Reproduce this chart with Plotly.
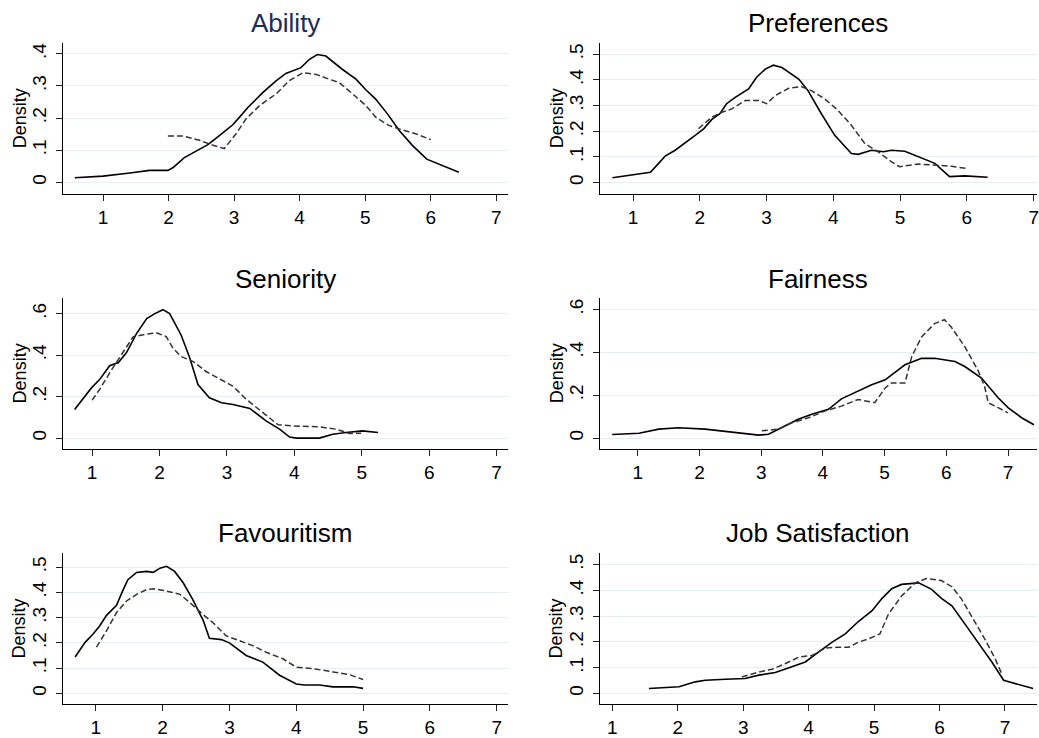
import plotly.graph_objects as go

# ---------------- data ----------------
titles = ["Ability", "Preferences", "Seniority", "Fairness", "Favouritism", "Job Satisfaction"]

ability_solid_x = [0.57, 1.0, 1.41, 1.71, 1.99, 2.07, 2.24, 2.40, 2.60, 2.78, 2.98, 3.08, 3.21, 3.44, 3.64, 3.79, 4.02, 4.15, 4.27, 4.40, 4.65, 4.86, 5.01, 5.16, 5.34, 5.52, 5.72, 5.94, 6.18, 6.43]
ability_solid_y = [0.014, 0.019, 0.029, 0.037, 0.037, 0.046, 0.077, 0.095, 0.117, 0.146, 0.179, 0.202, 0.233, 0.280, 0.316, 0.339, 0.357, 0.383, 0.398, 0.393, 0.352, 0.321, 0.288, 0.259, 0.213, 0.161, 0.115, 0.072, 0.053, 0.031]
ability_dash_x = [1.99, 2.22, 2.47, 2.68, 2.85, 3.03, 3.18, 3.39, 3.64, 3.84, 4.05, 4.25, 4.45, 4.60, 4.81, 5.01, 5.16, 5.36, 5.57, 5.77, 6.0]
ability_dash_y = [0.144, 0.144, 0.131, 0.115, 0.105, 0.151, 0.197, 0.239, 0.275, 0.316, 0.341, 0.336, 0.321, 0.311, 0.275, 0.239, 0.203, 0.177, 0.163, 0.151, 0.133]

pref_solid_x = [0.69, 0.94, 1.16, 1.26, 1.48, 1.63, 1.93, 2.06, 2.18, 2.30, 2.40, 2.53, 2.73, 2.85, 2.98, 3.10, 3.23, 3.48, 3.62, 3.82, 4.02, 4.27, 4.37, 4.57, 4.75, 4.87, 5.07, 5.27, 5.52, 5.74, 5.97, 6.31]
pref_solid_y = [0.019, 0.027, 0.037, 0.040, 0.103, 0.126, 0.184, 0.210, 0.246, 0.268, 0.307, 0.332, 0.365, 0.410, 0.442, 0.457, 0.448, 0.403, 0.358, 0.268, 0.184, 0.113, 0.110, 0.126, 0.120, 0.126, 0.122, 0.100, 0.075, 0.023, 0.026, 0.021]
pref_dash_x = [1.98, 2.18, 2.33, 2.48, 2.68, 2.88, 3.0, 3.13, 3.33, 3.52, 3.67, 3.87, 4.07, 4.27, 4.47, 4.67, 4.87, 4.99, 5.27, 5.57, 5.77, 5.99]
pref_dash_y = [0.210, 0.255, 0.274, 0.287, 0.320, 0.320, 0.307, 0.339, 0.367, 0.374, 0.358, 0.326, 0.281, 0.223, 0.152, 0.120, 0.081, 0.062, 0.072, 0.068, 0.064, 0.055]

sen_solid_x = [0.74, 0.87, 0.99, 1.11, 1.26, 1.39, 1.51, 1.66, 1.81, 1.93, 2.05, 2.15, 2.32, 2.45, 2.57, 2.74, 2.92, 3.09, 3.34, 3.58, 3.78, 3.93, 4.03, 4.37, 4.57, 4.77, 5.01, 5.24]
sen_solid_y = [0.138, 0.194, 0.242, 0.282, 0.349, 0.364, 0.412, 0.505, 0.576, 0.600, 0.619, 0.600, 0.497, 0.385, 0.258, 0.194, 0.170, 0.162, 0.143, 0.083, 0.043, 0.005, 0.0, 0.0, 0.019, 0.027, 0.035, 0.027]
sen_dash_x = [1.0, 1.11, 1.29, 1.46, 1.61, 1.81, 1.95, 2.10, 2.20, 2.32, 2.50, 2.69, 2.89, 3.09, 3.29, 3.53, 3.76, 3.98, 4.37, 4.62, 4.82, 4.99]
sen_dash_y = [0.183, 0.234, 0.330, 0.412, 0.489, 0.501, 0.508, 0.489, 0.433, 0.393, 0.369, 0.321, 0.285, 0.250, 0.186, 0.123, 0.064, 0.059, 0.054, 0.043, 0.022, 0.024]

fair_solid_x = [0.585, 1.02, 1.34, 1.66, 2.09, 2.53, 2.96, 3.12, 3.39, 3.60, 3.82, 4.09, 4.30, 4.57, 4.79, 5.01, 5.33, 5.60, 5.81, 6.14, 6.30, 6.57, 6.84, 7.0, 7.22, 7.42]
fair_solid_y = [0.017, 0.023, 0.042, 0.048, 0.042, 0.029, 0.014, 0.018, 0.057, 0.088, 0.111, 0.134, 0.183, 0.218, 0.249, 0.272, 0.342, 0.372, 0.372, 0.357, 0.334, 0.280, 0.188, 0.142, 0.095, 0.062]
fair_dash_x = [3.01, 3.28, 3.50, 3.77, 4.03, 4.30, 4.57, 4.84, 5.01, 5.11, 5.33, 5.44, 5.60, 5.81, 5.97, 6.08, 6.30, 6.51, 6.62, 6.68, 6.84, 7.0]
fair_dash_y = [0.034, 0.042, 0.072, 0.095, 0.126, 0.149, 0.180, 0.165, 0.234, 0.257, 0.257, 0.380, 0.472, 0.534, 0.552, 0.518, 0.426, 0.318, 0.242, 0.165, 0.142, 0.118]

fav_solid_x = [0.69, 0.84, 0.96, 1.06, 1.16, 1.31, 1.41, 1.48, 1.61, 1.76, 1.86, 1.96, 2.06, 2.18, 2.31, 2.45, 2.61, 2.70, 2.88, 3.0, 3.25, 3.50, 3.75, 4.0, 4.12, 4.35, 4.55, 4.85, 5.0]
fav_solid_y = [0.144, 0.202, 0.235, 0.268, 0.309, 0.349, 0.411, 0.450, 0.479, 0.483, 0.479, 0.496, 0.503, 0.483, 0.437, 0.372, 0.287, 0.218, 0.213, 0.200, 0.150, 0.124, 0.072, 0.037, 0.033, 0.033, 0.026, 0.026, 0.020]
fav_dash_x = [1.01, 1.16, 1.31, 1.46, 1.61, 1.76, 1.88, 2.06, 2.26, 2.41, 2.60, 2.75, 2.95, 3.15, 3.35, 3.55, 3.80, 4.0, 4.25, 4.55, 4.80, 5.0]
fav_dash_y = [0.183, 0.248, 0.320, 0.366, 0.392, 0.411, 0.414, 0.405, 0.392, 0.359, 0.313, 0.281, 0.228, 0.209, 0.189, 0.163, 0.137, 0.104, 0.098, 0.085, 0.074, 0.055]

job_solid_x = [1.56, 2.02, 2.27, 2.42, 2.73, 3.03, 3.24, 3.49, 3.69, 3.95, 4.15, 4.36, 4.56, 4.76, 4.97, 5.12, 5.27, 5.42, 5.68, 5.88, 6.03, 6.19, 6.39, 6.59, 6.80, 6.98, 7.15, 7.43]
job_solid_y = [0.019, 0.026, 0.045, 0.051, 0.055, 0.058, 0.071, 0.081, 0.099, 0.122, 0.160, 0.199, 0.231, 0.279, 0.321, 0.368, 0.406, 0.423, 0.429, 0.404, 0.369, 0.340, 0.269, 0.199, 0.122, 0.051, 0.038, 0.019]
job_dash_x = [2.98, 3.24, 3.44, 3.64, 3.85, 4.05, 4.26, 4.43, 4.61, 4.76, 4.92, 5.09, 5.22, 5.42, 5.63, 5.80, 6.03, 6.19, 6.34, 6.49, 6.69, 6.85, 6.96]
job_dash_y = [0.064, 0.083, 0.094, 0.115, 0.141, 0.147, 0.176, 0.179, 0.179, 0.199, 0.212, 0.231, 0.308, 0.378, 0.429, 0.446, 0.438, 0.414, 0.365, 0.301, 0.212, 0.135, 0.071]

x_ticks = [1, 2, 3, 4, 5, 6, 7]
x_tick_labels = ["1", "2", "3", "4", "5", "6", "7"]
y_ticks_a = [0, 0.1, 0.2, 0.3, 0.4]
y_labels_a = ["0", ".1", ".2", ".3", ".4"]
y_ticks_b = [0, 0.1, 0.2, 0.3, 0.4, 0.5]
y_labels_b = ["0", ".1", ".2", ".3", ".4", ".5"]
y_ticks_c = [0, 0.2, 0.4, 0.6]
y_labels_c = ["0", ".2", ".4", ".6"]

# ---------------- layout ----------------
W, H = 1039, 738
FONT = "Liberation Sans, Arial, Helvetica, sans-serif"

panels = [
    dict(sx=ability_solid_x, sy=ability_solid_y, dx=ability_dash_x, dy=ability_dash_y,
         xr=[0.387, 7.18], yr=[-0.037, 0.435], yt=y_ticks_a, yl=y_labels_a, col=0, row=0),
    dict(sx=pref_solid_x, sy=pref_solid_y, dx=pref_dash_x, dy=pref_dash_y,
         xr=[0.502, 7.05], yr=[-0.045, 0.545], yt=y_ticks_b, yl=y_labels_b, col=1, row=0),
    dict(sx=sen_solid_x, sy=sen_solid_y, dx=sen_dash_x, dy=sen_dash_y,
         xr=[0.566, 7.17], yr=[-0.0525, 0.676], yt=y_ticks_c, yl=y_labels_c, col=0, row=1),
    dict(sx=fair_solid_x, sy=fair_solid_y, dx=fair_dash_x, dy=fair_dash_y,
         xr=[0.385, 7.47], yr=[-0.0508, 0.654], yt=y_ticks_c, yl=y_labels_c, col=1, row=1),
    dict(sx=fav_solid_x, sy=fav_solid_y, dx=fav_dash_x, dy=fav_dash_y,
         xr=[0.507, 7.17], yr=[-0.043, 0.557], yt=y_ticks_b, yl=y_labels_b, col=0, row=2),
    dict(sx=job_solid_x, sy=job_solid_y, dx=job_dash_x, dy=job_dash_y,
         xr=[0.81, 7.49], yr=[-0.042, 0.546], yt=y_ticks_b, yl=y_labels_b, col=1, row=2),
]

col_px = [(63, 509), (601, 1039)]
row_px = [(43, 196), (300.7, 453.3), (558, 711)]
title_y_px = [23, 281.5, 538]

fig = go.Figure()
layout = dict(
    width=W, height=H, margin=dict(l=0, r=0, t=0, b=0),
    paper_bgcolor="white", plot_bgcolor="white", showlegend=False,
    font=dict(family=FONT, color="black", size=14),
)
annotations = []
for i, p in enumerate(panels):
    k = "" if i == 0 else str(i + 1)
    x0, x1 = col_px[p["col"]]
    y0, y1 = row_px[p["row"]]
    fig.add_trace(go.Scatter(x=p["sx"], y=p["sy"], mode="lines", xaxis="x" + k, yaxis="y" + k,
                             line=dict(color="black", width=1.6), hoverinfo="skip"))
    fig.add_trace(go.Scatter(x=p["dx"], y=p["dy"], mode="lines", xaxis="x" + k, yaxis="y" + k,
                             line=dict(color="#333333", width=1.5, dash="6px,3px"), hoverinfo="skip"))
    layout["xaxis" + k] = dict(
        domain=[x0 / W, x1 / W], anchor="y" + k, range=p["xr"],
        tickvals=x_ticks, ticktext=x_tick_labels, ticks="outside", ticklen=6, tickcolor="#222",
        showline=True, linecolor="black", linewidth=1, showgrid=False, zeroline=False,
        tickfont=dict(size=19, family=FONT), ticklabelstandoff=0, fixedrange=True,
        ticklabeloverflow="allow",
    )
    layout["yaxis" + k] = dict(
        domain=[1 - y1 / H, 1 - y0 / H], anchor="x" + k, range=p["yr"],
        tickvals=p["yt"], ticktext=p["yl"], ticks="outside", ticklen=6, tickcolor="#222",
        tickangle=-90, showline=True, linecolor="black", linewidth=1,
        showgrid=True, gridcolor="#e6eef1", gridwidth=1, zeroline=False,
        tickfont=dict(size=19, family=FONT), ticklabelstandoff=2, fixedrange=True,
    )
    annotations.append(dict(
        text=titles[i], xref="paper", yref="paper",
        x=((x0 + x1) / 2) / W, y=1 - title_y_px[p["row"]] / H,
        xanchor="center", yanchor="middle", showarrow=False,
        font=dict(size=26, family=FONT, color="#1c2d5a" if i == 0 else "black"),
    ))
    annotations.append(dict(
        text="Density", xref="paper", yref="paper",
        x=(x0 - 43) / W, y=1 - ((y0 + y1) / 2) / H, textangle=-90,
        xanchor="center", yanchor="middle", showarrow=False,
        font=dict(size=18, family=FONT, color="black"),
    ))
layout["annotations"] = annotations
fig.update_layout(**layout)
fig.write_html("out.html", config={"displayModeBar": False},
               post_script="document.body.style.margin='0';document.body.style.overflow='hidden';")
